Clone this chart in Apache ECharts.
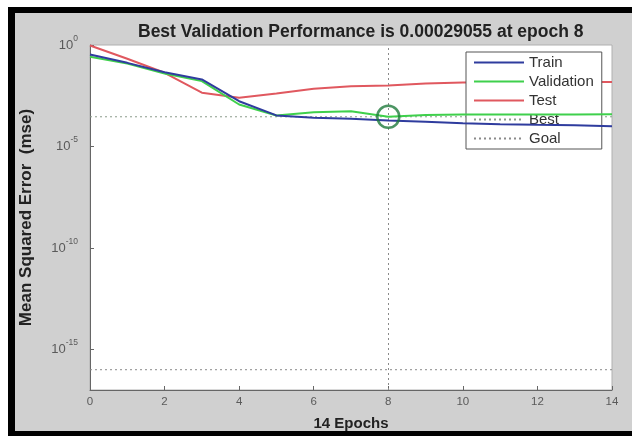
<!DOCTYPE html>
<html><head><meta charset="utf-8">
<script src="https://cdn.jsdelivr.net/npm/echarts@6/dist/echarts.min.js"></script>
<style>
html,body{margin:0;padding:0;background:#fff;}
#wrap{position:relative;width:632px;height:436px;overflow:hidden;background:#fff;}
#frame{position:absolute;left:8px;top:7px;width:624px;height:429px;background:#000;}
#panel{position:absolute;left:15px;top:13px;width:617px;height:418px;background:#d0d0d0;}
#chart{position:absolute;left:0;top:0;width:632px;height:436px;}
</style></head><body>
<div id="wrap"><div id="frame"></div><div id="panel"></div><div id="chart"></div></div>
<script>
const epochs = [0,1,2,3,4,5,6,7,8,9,10,11,12,13,14];
const trainPerf = [0.339,0.132,0.0457,0.0200,0.0017,0.000339,0.000257,0.000229,0.000191,0.000166,0.000138,0.000126,0.000117,0.000110,0.000100];
const valPerf   = [0.263,0.123,0.0398,0.0166,0.00117,0.000339,0.00049,0.00055,0.00029055,0.000355,0.000372,0.00038,0.00038,0.00038,0.000389];
const testPerf  = [0.95,0.209,0.0427,0.00447,0.00251,0.00407,0.00692,0.00933,0.0100,0.0126,0.0141,0.0148,0.0151,0.0151,0.0151];
const bestEpoch = 8;
const bestPerf = 0.00029055;
const goalPerf = 1e-16;
const yMin = 1e-17, yMax = 1;
const yTickValues = [1e-15, 1e-10, 1e-5, 1];
const xTickStep = 2;
const titleText = 'Best Validation Performance is 0.00029055 at epoch 8';
const xName = '14 Epochs';
const yName = 'Mean Squared Error  (mse)';

const pairs = arr => epochs.map((e, i) => [e, arr[i]]);
const xFirst = epochs[0], xLast = epochs[epochs.length - 1];
const dotted = [2, 3];

const chart = echarts.init(document.getElementById('chart'), null, {renderer: 'canvas'});
chart.setOption({
  backgroundColor: 'transparent',
  animation: false,
  textStyle: {fontFamily: 'Liberation Sans, Arial, sans-serif'},
  title: {
    text: titleText, left: 133, top: 18,
    textStyle: {fontSize: 17.5, fontWeight: 'bold', color: '#222'}
  },
  grid: {left: 90, right: 20, top: 45, bottom: 45, show: true, backgroundColor: '#ffffff', borderColor: '#b0b0b0', borderWidth: 1},
  legend: {
    data: ['Train', 'Validation', 'Test', 'Best', 'Goal'],
    orient: 'vertical', left: 466, top: 52,
    itemWidth: 50, itemHeight: 14, itemGap: 4,
    padding: [3, 8, 3, 7],
    itemStyle: {opacity: 0},
    backgroundColor: '#ffffff', borderColor: '#555', borderWidth: 1, borderRadius: 0,
    textStyle: {fontSize: 15, color: '#333', lineHeight: 15}
  },
  xAxis: {
    type: 'value', min: xFirst, max: xLast, interval: xTickStep,
    name: xName, nameLocation: 'middle', nameGap: 26,
    nameTextStyle: {fontSize: 15, fontWeight: 'bold', color: '#222'},
    axisLine: {lineStyle: {color: '#666', width: 1}},
    axisTick: {inside: true, length: 4, lineStyle: {color: '#666'}},
    axisLabel: {fontSize: 11.5, color: '#5a5a5a', margin: 6},
    splitLine: {show: false}
  },
  yAxis: {
    type: 'log', logBase: 10, min: yMin, max: yMax,
    name: yName, nameLocation: 'middle', nameGap: 55,
    nameTextStyle: {fontSize: 17, fontWeight: 'bold', color: '#222'},
    axisLine: {show: true, lineStyle: {color: '#666', width: 1}},
    axisTick: {inside: true, length: 4, customValues: yTickValues, lineStyle: {color: '#666'}},
    axisLabel: {
      customValues: yTickValues, margin: 12, color: '#5a5a5a',
      formatter: v => '{b|10}{s|' + Math.round(Math.log10(v)) + '}',
      rich: {
        b: {fontSize: 13, lineHeight: 22, color: '#5a5a5a', verticalAlign: 'middle'},
        s: {fontSize: 8.5, lineHeight: 8, color: '#5a5a5a', verticalAlign: 'top'}
      }
    },
    splitLine: {show: false}
  },
  series: [
    {name: 'Train', type: 'line', data: pairs(trainPerf), symbol: 'none', lineStyle: {color: '#2f3c9e', width: 2}, itemStyle: {color: '#2f3c9e'}, z: 5},
    {name: 'Validation', type: 'line', data: pairs(valPerf), symbol: 'none', lineStyle: {color: '#3fd04c', width: 2}, itemStyle: {color: '#3fd04c'}, z: 4},
    {name: 'Test', type: 'line', data: pairs(testPerf), symbol: 'none', lineStyle: {color: '#e0585f', width: 2}, itemStyle: {color: '#e0585f'}, z: 3},
    {name: 'Best', type: 'line', data: [[xFirst, bestPerf], [xLast, bestPerf]], symbol: 'none',
     lineStyle: {color: '#8a9a8a', width: 1, type: dotted}, itemStyle: {color: '#8a9a8a'}, z: 2,
     markLine: {silent: true, symbol: 'none', label: {show: false}, lineStyle: {color: '#8a8a8a', width: 1, type: dotted}, data: [{xAxis: bestEpoch}]}},
    {name: 'Goal', type: 'line', data: [[xFirst, goalPerf], [xLast, goalPerf]], symbol: 'none',
     lineStyle: {color: '#8a8a8a', width: 1, type: dotted}, itemStyle: {color: '#8a8a8a'}, z: 2},
    {name: 'BestPoint', type: 'scatter', data: [[bestEpoch, bestPerf]], symbol: 'circle', symbolSize: 22,
     itemStyle: {color: 'rgba(0,0,0,0)', borderColor: '#1f7a3c', borderWidth: 2.5}, z: 6}
  ]
});
</script></body></html>
